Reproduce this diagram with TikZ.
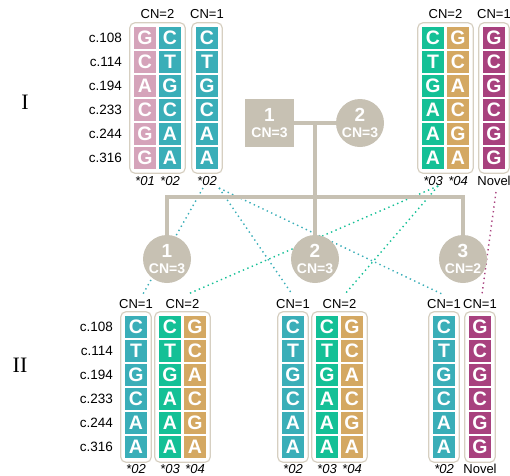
\documentclass[tikz,border=0pt]{standalone}
\usepackage{fontspec}
\setmainfont{Liberation Sans}
\newfontfamily\romanfont{Liberation Serif}
\usetikzlibrary{fit}

\definecolor{hapPink}{RGB}{213,163,186}
\definecolor{hapTeal}{RGB}{58,174,184}
\definecolor{hapGreen}{RGB}{20,192,150}
\definecolor{hapTan}{RGB}{212,168,98}
\definecolor{hapMagenta}{RGB}{168,65,126}
\definecolor{pedGray}{RGB}{199,193,179}
\definecolor{boxLine}{RGB}{214,207,193}

% one haplotype column: name, left x, top y, colour, six bases
\newcommand\hapcol[5]{%
  \foreach \lt [count=\i] in {#5}{%
    \node[cell, fill=#4] (#1-\i) at ({#2+11},{#3+11+24*(\i-1)}) {\lt};
  }%
}

\begin{document}
\begin{tikzpicture}[x=1pt,y=-1pt,
  cell/.style={minimum width=22pt,minimum height=22pt,inner sep=0pt,text=white,
    font=\fontsize{19.5}{19.5}\selectfont\bfseries},
  grp/.style={draw=boxLine,line width=1.2pt,rounded corners=5pt,inner sep=4pt},
  cnlab/.style={inner sep=0pt,font=\fontsize{13}{13}\selectfont},
  allele/.style={inner sep=0pt,font=\fontsize{13}{13}\selectfont\itshape},
  novlab/.style={inner sep=0pt,font=\fontsize{13}{13}\selectfont},
  poslab/.style={inner sep=0pt,anchor=east,font=\fontsize{13.5}{13.5}\selectfont},
  gen/.style={inner sep=0pt,font=\romanfont\fontsize{22}{22}\selectfont},
  male/.style={fill=pedGray,minimum width=49pt,minimum height=48pt,inner sep=0pt},
  female/.style={circle,fill=pedGray,minimum size=48pt,inner sep=0pt},
  pednum/.style={text=white,inner sep=0pt,font=\fontsize{19}{19}\selectfont\bfseries},
  pedcn/.style={text=white,inner sep=0pt,font=\fontsize{14}{14}\selectfont\bfseries},
  kin/.style={draw=pedGray,line width=4pt},
  trace/.style={line width=1.4pt,dash pattern=on 1.4pt off 3.4pt}
]
\useasboundingbox (0,0) rectangle (510,475);

% ---------- inheritance traces (behind the pedigree) ----------
\coordinate (s02a) at (203,188);
\coordinate (s02b) at (219,188);
\coordinate (s03)  at (438,186);
\coordinate (sNov) at (496,192);
\coordinate (e1a) at (143,294);
\coordinate (e1b) at (188,294);
\coordinate (e2a) at (292,294);
\coordinate (e2b) at (345,294);
\coordinate (e3a) at (442,294);
\coordinate (e3b) at (482,294);
\draw[trace,hapTeal] (s02a) -- (e1a);
\draw[trace,hapTeal] (s02b) -- (e2a);
\draw[trace,hapTeal] (s02b) -- (e3a);
\draw[trace,hapGreen] (s03) -- (e1b);
\draw[trace,hapGreen] (s03) -- (e2b);
\draw[trace,hapMagenta] (sNov) -- (e3b);

% ---------- pedigree ----------
\node[male]   (p1) at (269.5,123) {};
\node[female] (p2) at (360,123) {};
\node[female] (c1) at (167,259) {};
\node[female] (c2) at (315,259) {};
\node[female] (c3) at (463,259) {};

\coordinate (mate) at (315,123);
\coordinate (sib)  at (315,197);
\coordinate (sibL) at (167,197);
\coordinate (sibR) at (463,197);
\draw[kin] (p1.east) -- (p2.west);
\draw[kin] (mate) -- (sib);
\draw[kin] (c1.north) -- (sibL) -- (sibR) -- (c3.north);
\draw[kin] (sib) -- (c2.north);

\foreach \p/\n/\c in {p1/1/3, p2/2/3, c1/1/3, c2/2/3, c3/3/2}{%
  \node[pednum] (\p-num) at ([yshift=8.5pt]\p.center) {\n};
  \node[pedcn]  (\p-cn)  at ([yshift=-10pt]\p.center) {CN=\c};
}

% ---------- generation labels ----------
\node[gen] (genI)  at (25,102) {I};
\node[gen] (genII) at (20,365) {II};

% ---------- generation I haplotypes ----------
\hapcol{A1}{134}{27}{hapPink}{G,C,A,C,G,G}
\hapcol{A2}{159}{27}{hapTeal}{C,T,G,C,A,A}
\hapcol{B1}{196}{27}{hapTeal}{C,T,G,C,A,A}
\hapcol{C1}{422}{27}{hapGreen}{C,T,G,A,A,A}
\hapcol{C2}{447}{27}{hapTan}{G,C,A,C,G,A}
\hapcol{D1}{483}{27}{hapMagenta}{G,C,G,C,G,G}

\node[grp,fit=(A1-1)(A2-6)] (boxA) {};
\node[grp,fit=(B1-1)(B1-6)] (boxB) {};
\node[grp,fit=(C1-1)(C2-6)] (boxC) {};
\node[grp,fit=(D1-1)(D1-6)] (boxD) {};

\node[cnlab] (cnA) at ([yshift=8pt]boxA.north) {CN=2};
\node[cnlab] (cnB) at ([yshift=8pt]boxB.north) {CN=1};
\node[cnlab] (cnC) at ([yshift=8pt]boxC.north) {CN=2};
\node[cnlab] (cnD) at ([yshift=8pt]boxD.north) {CN=1};

\node[allele] (lA1) at ([yshift=-11.5pt]A1-6.south) {*01};
\node[allele] (lA2) at ([yshift=-11.5pt]A2-6.south) {*02};
\node[allele] (lB1) at ([yshift=-11.5pt]B1-6.south) {*02};
\node[allele] (lC1) at ([yshift=-11.5pt]C1-6.south) {*03};
\node[allele] (lC2) at ([yshift=-11.5pt]C2-6.south) {*04};
\node[novlab] (lD1) at ([yshift=-11.5pt]D1-6.south) {Novel};

\foreach \t [count=\i] in {c.108,c.114,c.194,c.233,c.244,c.316}{%
  \node[poslab] (posI-\i) at (122,{38+24*(\i-1)}) {\t};
}

% ---------- generation II haplotypes ----------
\hapcol{E1}{125}{316}{hapTeal}{C,T,G,C,A,A}
\hapcol{F1}{159}{316}{hapGreen}{C,T,G,A,A,A}
\hapcol{F2}{184}{316}{hapTan}{G,C,A,C,G,A}
\hapcol{G1}{282}{316}{hapTeal}{C,T,G,C,A,A}
\hapcol{H1}{316}{316}{hapGreen}{C,T,G,A,A,A}
\hapcol{H2}{341}{316}{hapTan}{G,C,A,C,G,A}
\hapcol{I1}{433}{316}{hapTeal}{C,T,G,C,A,A}
\hapcol{J1}{469}{316}{hapMagenta}{G,C,G,C,G,G}

\node[grp,fit=(E1-1)(E1-6)] (boxE) {};
\node[grp,fit=(F1-1)(F2-6)] (boxF) {};
\node[grp,fit=(G1-1)(G1-6)] (boxG) {};
\node[grp,fit=(H1-1)(H2-6)] (boxH) {};
\node[grp,fit=(I1-1)(I1-6)] (boxI) {};
\node[grp,fit=(J1-1)(J1-6)] (boxJ) {};

\node[cnlab] (cnE) at ([yshift=7.5pt]boxE.north) {CN=1};
\node[cnlab] (cnF) at ([yshift=7.5pt]boxF.north) {CN=2};
\node[cnlab] (cnG) at ([yshift=7.5pt]boxG.north) {CN=1};
\node[cnlab] (cnH) at ([yshift=7.5pt]boxH.north) {CN=2};
\node[cnlab] (cnI) at ([yshift=7.5pt]boxI.north) {CN=1};
\node[cnlab] (cnJ) at ([yshift=7.5pt]boxJ.north) {CN=1};

\node[allele] (lE1) at ([yshift=-10.5pt]E1-6.south) {*02};
\node[allele] (lF1) at ([yshift=-10.5pt]F1-6.south) {*03};
\node[allele] (lF2) at ([yshift=-10.5pt]F2-6.south) {*04};
\node[allele] (lG1) at ([yshift=-10.5pt]G1-6.south) {*02};
\node[allele] (lH1) at ([yshift=-10.5pt]H1-6.south) {*03};
\node[allele] (lH2) at ([yshift=-10.5pt]H2-6.south) {*04};
\node[allele] (lI1) at ([yshift=-10.5pt]I1-6.south) {*02};
\node[novlab] (lJ1) at ([yshift=-10.5pt]J1-6.south) {Novel};

\foreach \t [count=\i] in {c.108,c.114,c.194,c.233,c.244,c.316}{%
  \node[poslab] (posII-\i) at (113,{327+24*(\i-1)}) {\t};
}
\end{tikzpicture}
\end{document}
